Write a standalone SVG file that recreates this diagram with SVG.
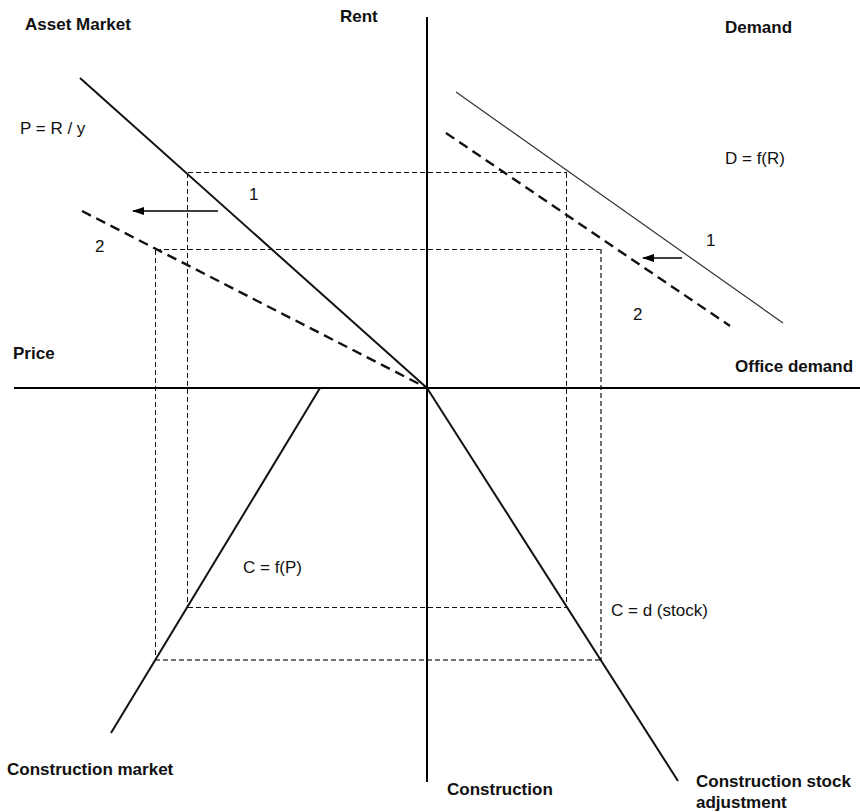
<svg xmlns="http://www.w3.org/2000/svg" width="860" height="812" viewBox="0 0 860 812">
<defs>
<marker id="ah" viewBox="0 0 12 8" refX="11" refY="4" markerWidth="12" markerHeight="8" markerUnits="userSpaceOnUse" orient="auto">
<path d="M0,0 L12,4 L0,8 Z" fill="#000"/>
</marker>
<style>
.axis{stroke:#000;stroke-width:2;fill:none}
.curve{stroke:#111;stroke-width:2;fill:none}
.thin{stroke:#333;stroke-width:1.2;fill:none}
.shift{stroke:#111;stroke-width:2.4;fill:none;stroke-dasharray:10 6}
.guide{stroke:#111;stroke-width:1;fill:none;stroke-dasharray:5 3;shape-rendering:crispEdges}
.guide2{stroke:#444;stroke-width:1.5;fill:none;stroke-dasharray:5 3}
.arrow{stroke:#000;stroke-width:1.3;fill:none;marker-end:url(#ah)}
.b{font-family:"Liberation Sans",Arial,sans-serif;font-weight:bold;font-size:17px;fill:#111}
.r{font-family:"Liberation Sans",Arial,sans-serif;font-size:17px;fill:#111}
</style>
</defs>
<rect width="860" height="812" fill="#fff"/>

<g id="guides">
<path class="guide" d="M187.5,172.5 H566.5 M187.5,172.5 V607.5 M566.5,172.5 V607.5 M187.5,607.5 H566.5"/>
<path class="guide" d="M155.5,249.5 H601.5 M155.5,249.5 V660.5"/>
<path class="guide2" d="M601,249 V660 M155,660 H601"/>
</g>

<g id="axes">
<line class="axis" x1="427" y1="17" x2="427" y2="782"/>
<line class="axis" x1="14" y1="388" x2="860" y2="388"/>
</g>

<g id="asset-market">
<line class="curve" x1="80" y1="78" x2="427" y2="388"/>
<line class="shift" x1="82" y1="211" x2="427" y2="388"/>
<text class="b" x="25" y="30">Asset Market</text>
<text class="r" x="20" y="134">P = R / y</text>
<text class="r" x="249" y="200">1</text>
<text class="r" x="95" y="252">2</text>
</g>

<g id="demand">
<line class="thin" x1="456" y1="92" x2="783" y2="323"/>
<line class="shift" x1="446" y1="133" x2="730" y2="326"/>
<text class="b" x="725" y="33">Demand</text>
<text class="r" x="725" y="164">D = f(R)</text>
<text class="r" x="706" y="246">1</text>
<text class="r" x="633" y="320">2</text>
</g>

<g id="construction-market">
<line class="curve" x1="320" y1="388" x2="111" y2="733"/>
<text class="r" x="243" y="573">C = f(P)</text>
<text class="b" x="7" y="775">Construction market</text>
</g>

<g id="stock-adjustment">
<line class="curve" x1="427" y1="388" x2="678" y2="781"/>
<text class="r" x="611" y="616">C = d (stock)</text>
<text class="b" x="696" y="787">Construction stock</text>
<text class="b" x="696" y="808">adjustment</text>
</g>

<g id="axis-labels">
<text class="b" x="340" y="22">Rent</text>
<text class="b" x="13" y="359">Price</text>
<text class="b" x="735" y="372">Office demand</text>
<text class="b" x="447" y="795">Construction</text>
</g>

<g id="connectors">
<line class="arrow" x1="218" y1="211" x2="133" y2="211"/>
<line class="arrow" x1="682" y1="258" x2="643" y2="258"/>
</g>
</svg>
